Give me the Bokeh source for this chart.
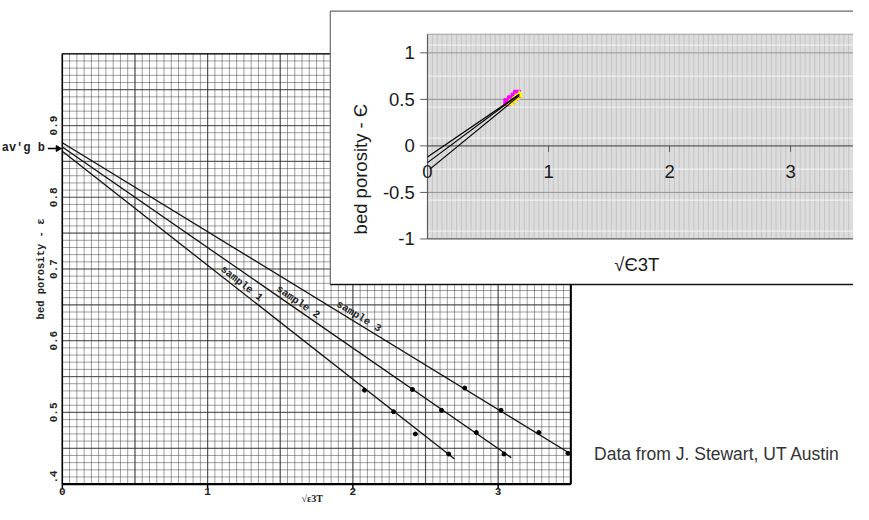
import numpy as np
from bokeh.plotting import figure
from bokeh.models import Range1d
from bokeh.core.properties import value
from bokeh.embed import file_html
from bokeh.resources import INLINE

# ---------------- data: scanned graph ----------------
sample_names = ["sample 1", "sample 2", "sample 3"]
s1_x = [2.08, 2.28, 2.43, 2.66]
s1_y = [0.531, 0.501, 0.470, 0.442]
s2_x = [2.41, 2.61, 2.85, 3.04]
s2_y = [0.532, 0.503, 0.472, 0.442]
s3_x = [2.77, 3.02, 3.28, 3.48]
s3_y = [0.534, 0.503, 0.472, 0.443]
fit_x0 = [0.0, 0.0, 0.0]
fit_y0 = [0.864, 0.870, 0.876]
fit_x1 = [2.70, 3.09, 3.50]
fit_y1 = [0.435, 0.437, 0.442]
label_x = [1.21, 1.60, 2.02]
avg_b = 0.868
g_yticks = [0.9, 0.8, 0.7, 0.6, 0.5, 0.41]
g_ytick_labels = ["0.9", "0.8", "0.7", "0.6", "0.5", ".4"]
g_xticks = [0, 1, 2, 3]
g_xtick_labels = ["0", "1", "2", "3"]

# ---------------- data: inset chart ----------------
in_x0 = [0.0, 0.0, 0.02]
in_y0 = [-0.12, -0.18, -0.25]
in_x1 = [0.76, 0.75, 0.76]
in_y1 = [0.555, 0.545, 0.54]
in_sq_x = [0.66, 0.69, 0.72, 0.74]
in_sq_y = [0.47, 0.50, 0.53, 0.56]
in_tri_x = [0.68, 0.71, 0.73, 0.76]
in_tri_y = [0.46, 0.49, 0.52, 0.55]
in_yticks = [1, 0.5, 0, -0.5, -1]
in_ytick_labels = ["1", "0.5", "0", "-0.5", "-1"]
in_xticks = [0, 1, 2, 3]
in_xtick_labels = ["0", "1", "2", "3"]

# ---------------- layout constants ----------------
W, H = 853, 504
SX, SY = W / 869.0, H / 520.0
GX0, GPX = 63 * SX, 148.0 * SX      # scanned graph: px of x=0, px per unit
GY04, GPY = 499 * SY, 740.0 * SY    # px from top of y=0.4, px per unit
IX0, IPX = 435 * SX, 123.3 * SX     # inset
IY0, IPY = 150 * SY, 96.0 * SY

gx_start = -GX0 / GPX
gy_end = 0.4 + GY04 / GPY
ix_start = -IX0 / IPX
iy_end = IY0 / IPY

p = figure(width=W, height=H, output_backend="svg", toolbar_location=None,
           x_range=Range1d(gx_start, gx_start + W / GPX),
           y_range=Range1d(gy_end - H / GPY, gy_end),
           min_border=0)
p.extra_x_ranges = {"ix": Range1d(ix_start, ix_start + W / IPX)}
p.extra_y_ranges = {"iy": Range1d(iy_end - H / IPY, iy_end)}
p.axis.visible = False
p.grid.visible = False
p.outline_line_color = None
p.background_fill_color = "white"
p.border_fill_color = "white"

MONO = value("Liberation Mono")
SANS = value("Liberation Sans")
INK = "#222222"

# ---------------- scanned graph paper ----------------
gx_min, gx_max, gy_min, gy_max = 0.0, 3.5, 0.4, 1.0
vx = np.round(np.arange(gx_min, gx_max + 1e-9, 0.05), 3)
hy = np.round(np.arange(gy_min, gy_max + 1e-9, 0.01), 3)
p.segment(x0=vx, y0=gy_min, x1=vx, y1=gy_max, line_color="#404040", line_alpha=0.5, line_width=1)
p.segment(x0=gx_min, y0=hy, x1=gx_max, y1=hy, line_color="#404040", line_alpha=0.5, line_width=1)
mx = np.round(np.arange(gx_min, gx_max + 1e-9, 0.5), 3)
my = np.round(np.arange(gy_min, gy_max + 1e-9, 0.05), 3)
p.segment(x0=mx, y0=gy_min, x1=mx, y1=gy_max, line_color="#303030", line_alpha=0.65, line_width=1.2)
p.segment(x0=gx_min, y0=my, x1=gx_max, y1=my, line_color="#303030", line_alpha=0.6, line_width=1.2)
# borders
p.segment(x0=[gx_min, gx_max, gx_min, gx_min], y0=[gy_min, gy_min, gy_min, gy_max],
          x1=[gx_min, gx_max, gx_max, gx_max], y1=[gy_max, gy_max, gy_min, gy_max],
          line_color="black", line_width=[1.5, 2, 2.2, 1])
p.segment(x0=g_xticks, y0=gy_min, x1=g_xticks, y1=gy_min - 0.007, line_color="black", line_width=1.5)

# fitted lines and points
p.segment(x0=fit_x0, y0=fit_y0, x1=fit_x1, y1=fit_y1, line_color="#111111", line_width=1.3)
for xs, ys in [(s1_x, s1_y), (s2_x, s2_y), (s3_x, s3_y)]:
    p.scatter(xs, ys, size=4, color="black")

# sample labels along lines
slopes = [(fit_y1[i] - fit_y0[i]) / (fit_x1[i] - fit_x0[i]) for i in range(3)]
lab_y = [fit_y0[i] + slopes[i] * (label_x[i] - fit_x0[i]) for i in range(3)]
angles = [np.arctan(s * GPY / GPX) for s in slopes]
p.text(x=label_x, y=lab_y, text=sample_names, angle=angles, text_align="center",
       text_baseline="bottom", text_font=MONO, text_font_size="10.5px",
       text_font_style="bold", text_color=INK, y_offset=-1)

# axis texts of the scan
p.text(x=[-0.035] * len(g_yticks), y=g_yticks, text=g_ytick_labels, angle=np.pi / 2,
       text_align="center", text_baseline="bottom", text_font=MONO,
       text_font_size="11px", text_font_style="bold", text_color=INK)
p.text(x=g_xticks, y=[gy_min - 0.005] * 4, text=g_xtick_labels, text_align="center",
       text_baseline="top", text_font=MONO, text_font_size="11px",
       text_font_style="bold", text_color=INK)
p.text(x=[-0.145], y=[0.70], text=["bed porosity - ε"], angle=np.pi / 2,
       text_align="center", text_baseline="middle", text_font=MONO,
       text_font_size="10.5px", text_font_style="bold", text_color=INK)
p.text(x=[1.72], y=[gy_min - 0.013], text=["√ε3T"], text_align="center", text_baseline="top",
       text_font=value("Liberation Serif"), text_font_size="10px", text_font_style="bold",
       text_color=INK)
p.text(x=[-0.12], y=[avg_b], text=["av'g b"], text_align="right", text_baseline="middle",
       text_font=MONO, text_font_size="12px", text_font_style="bold", text_color=INK)
p.segment(x0=[-0.1], y0=[avg_b], x1=[-0.03], y1=[avg_b], line_color="black", line_width=1.3)
p.scatter([-0.03], [avg_b], marker="triangle", angle=-np.pi / 2, size=6, color="black")

# credit text
p.text(x=[3.66], y=[0.442], text=["Data from J. Stewart, UT Austin"], text_align="left",
       text_baseline="middle", text_font=SANS, text_font_size="17.5px", text_color="#333333")

# ---------------- inset chart ----------------
R = dict(x_range_name="ix", y_range_name="iy")
box_l, box_r, box_b, box_t = -0.803, 3.7, -1.49, 1.448
pa_l, pa_r, pa_b, pa_t = 0.0, 3.7, -1.0, 1.2
p.quad(left=box_l, right=box_r, bottom=box_b, top=box_t, fill_color="white",
       line_color="#6a6a6a", line_width=1.2, **R)
p.segment(x0=[box_l], y0=[box_b], x1=[box_r], y1=[box_b], line_color="#111111", line_width=1.5, **R)
p.quad(left=pa_l, right=pa_r, bottom=pa_b, top=pa_t, fill_color="#dcdcdc",
       line_color=None, **R)
ivx = np.round(np.arange(0.04, pa_r, 0.04), 3)
p.segment(x0=ivx, y0=pa_b, x1=ivx, y1=pa_t, line_color="#c4c4c4", line_width=1, **R)
ihy = np.round(1.083 - np.arange(0, 7) / 3.0, 3)
p.segment(x0=pa_l, y0=ihy, x1=pa_r, y1=ihy, line_color="white", line_alpha=0.6, line_width=1.2, **R)
p.segment(x0=pa_l, y0=[1, 0.5, -0.5], x1=pa_r, y1=[1, 0.5, -0.5], line_color="#959595", line_width=1, **R)
p.segment(x0=pa_l, y0=[pa_t], x1=pa_r, y1=[pa_t], line_color="#a0a0a0", line_width=1, **R)
p.segment(x0=[pa_l, pa_l, pa_l], y0=[0, pa_b, pa_b], x1=[pa_r, pa_r, pa_l], y1=[0, pa_b, pa_t],
          line_color="#5a5a5a", line_width=1.2, **R)
p.segment(x0=-0.06, y0=in_yticks, x1=0, y1=in_yticks, line_color="#5a5a5a", line_width=1, **R)
p.segment(x0=in_xticks[1:], y0=0, x1=in_xticks[1:], y1=-0.065, line_color="#5a5a5a", line_width=1, **R)

p.scatter(in_sq_x, in_sq_y, marker="square", size=7, color="#ff00ff", **R)
p.scatter(in_tri_x, in_tri_y, marker="triangle", size=7, color="#ffff00", **R)
p.segment(x0=in_x0, y0=in_y0, x1=in_x1, y1=in_y1, line_color="black", line_width=1.2, **R)

p.text(x=[-0.105] * 5, y=in_yticks, text=in_ytick_labels, text_align="right",
       text_baseline="middle", text_font=SANS, text_font_size="18.5px",
       text_color="#1a1a1a", **R)
p.text(x=in_xticks, y=[-0.28] * 4, text=in_xtick_labels, text_align="center",
       text_baseline="middle", text_font=SANS, text_font_size="18.5px",
       text_color="#1a1a1a", **R)
p.text(x=[-0.55], y=[-0.25], text=["bed porosity - Є"], angle=np.pi / 2, text_align="center",
       text_baseline="middle", text_font=SANS, text_font_size="18.5px",
       text_color="#1a1a1a", **R)
p.text(x=[1.73], y=[-1.27], text=["√Є3T"], text_align="center", text_baseline="middle",
       text_font=SANS, text_font_size="18.5px", text_color="#1a1a1a", **R)

open("out.html", "w").write(file_html(p, INLINE))
